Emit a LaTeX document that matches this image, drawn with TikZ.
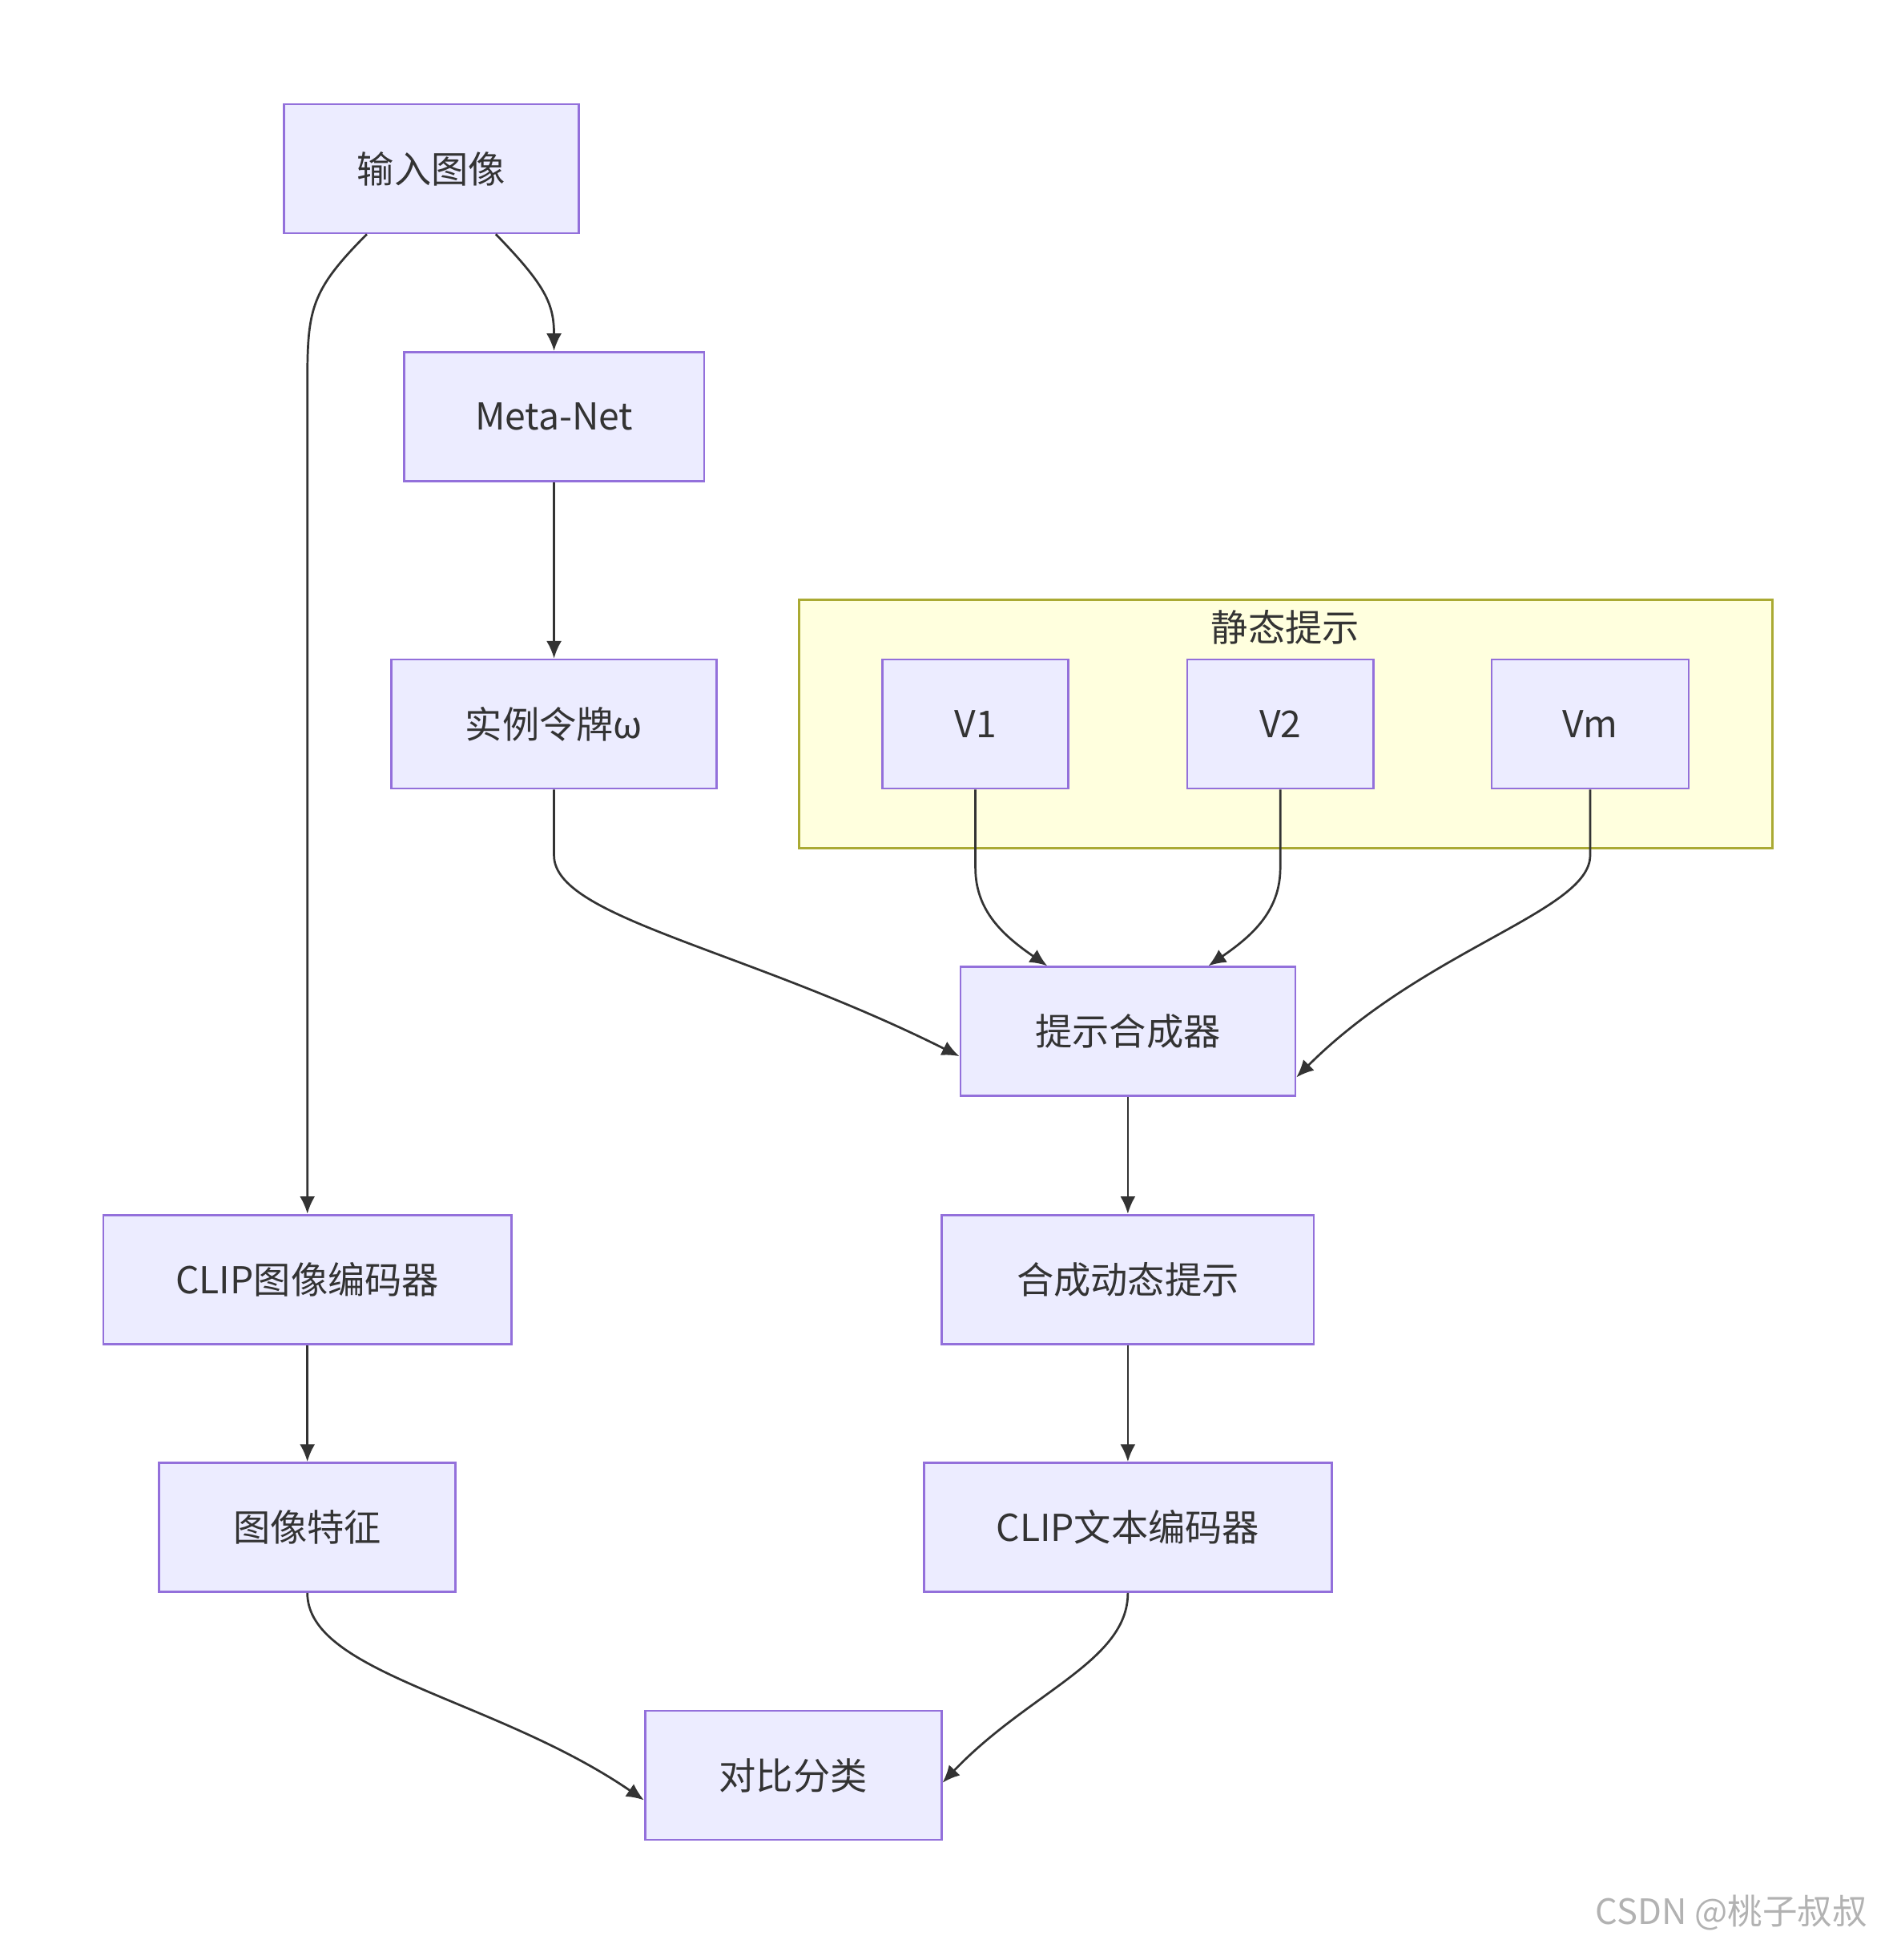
\documentclass[tikz,border=0pt]{standalone}
\usepackage{fontspec}
\setmainfont{Noto Sans CJK SC}
\usetikzlibrary{arrows.meta}
\definecolor{nfill}{HTML}{ECECFF}
\definecolor{ndraw}{HTML}{9370DB}
\definecolor{cfill}{HTML}{FFFFDE}
\definecolor{cdraw}{HTML}{AAAA33}
\definecolor{ed}{HTML}{333333}
\begin{document}
\begin{tikzpicture}[x=0.01cm,y=-0.01cm,
 box/.style={draw=ndraw,fill=nfill,line width=0.5pt,minimum height=1.04cm,inner sep=0pt,font=\fontsize{8.5}{10}\selectfont,text=ed},
 ar/.style={draw=ed,line width=0.5pt,-{Latex[length=4pt,width=3.5pt]}}]
\useasboundingbox (0,0) rectangle (1527,1581);
\node[draw=cdraw,fill=cfill,line width=0.5pt,minimum width=7.85cm,minimum height=2cm] (cl) at (1037.5,584) {};
\node[font=\fontsize{8.5}{10}\selectfont,text=ed] (cll) at (1037,506) {静态提示};
\node[box,minimum width=2.38cm] (in) at (348,136) {输入图像};
\node[box,minimum width=2.42cm] (mn) at (447,336) {Meta-Net};
\node[box,minimum width=2.62cm] (tk) at (447,584) {实例令牌ω};
\node[box,minimum width=1.5cm] (v1) at (787,584) {V1};
\node[box,minimum width=1.5cm] (v2) at (1033,584) {V2};
\node[box,minimum width=1.59cm] (vm) at (1283,584) {Vm};
\node[box,minimum width=2.7cm] (sy) at (910,832) {提示合成器};
\node[box,minimum width=3.29cm] (ci) at (248,1032) {CLIP图像编码器};
\node[box,minimum width=3.0cm] (dy) at (910,1032) {合成动态提示};
\node[box,minimum width=2.39cm] (if) at (248,1232) {图像特征};
\node[box,minimum width=3.29cm] (ct) at (910,1232) {CLIP文本编码器};
\node[box,minimum width=2.39cm] (co) at (640,1432) {对比分类};
\node[text=gray!60,font=\fontsize{8}{10}\selectfont] (wm) at (1397,1543) {CSDN @桃子叔叔};
\draw[ar] ([xshift=-0.52cm]in.south) .. controls (250,235) and (248,250) .. (248,310) -- (ci.north);
\draw[ar] ([xshift=0.52cm]in.south) .. controls (440,230) and (447,245) .. (mn.north);
\draw[ar] (mn) -- (tk);
\draw[ar] (tk.south) -- (447,690) .. controls (447,740) and (600,765) .. ([yshift=-0.2cm]sy.west);
\draw[ar] (v1.south) -- (787,700) .. controls (787,735) and (810,755) .. ([xshift=-0.65cm]sy.north);
\draw[ar] (v2.south) -- (1033,700) .. controls (1033,735) and (1010,755) .. ([xshift=0.65cm]sy.north);
\draw[ar] (vm.south) -- (1283,690) .. controls (1283,735) and (1150,765) .. ([yshift=-0.37cm]sy.east);
\draw[ar] (sy) -- (dy);
\draw[ar] (dy) -- (ct);
\draw[ar] (ci) -- (if);
\draw[ar] (if.south) .. controls (248,1350) and (400,1370) .. ([yshift=-0.2cm]co.west);
\draw[ar] (ct.south) .. controls (910,1340) and (830,1365) .. ([yshift=-0.06cm]co.east);
\end{tikzpicture}
\end{document}
